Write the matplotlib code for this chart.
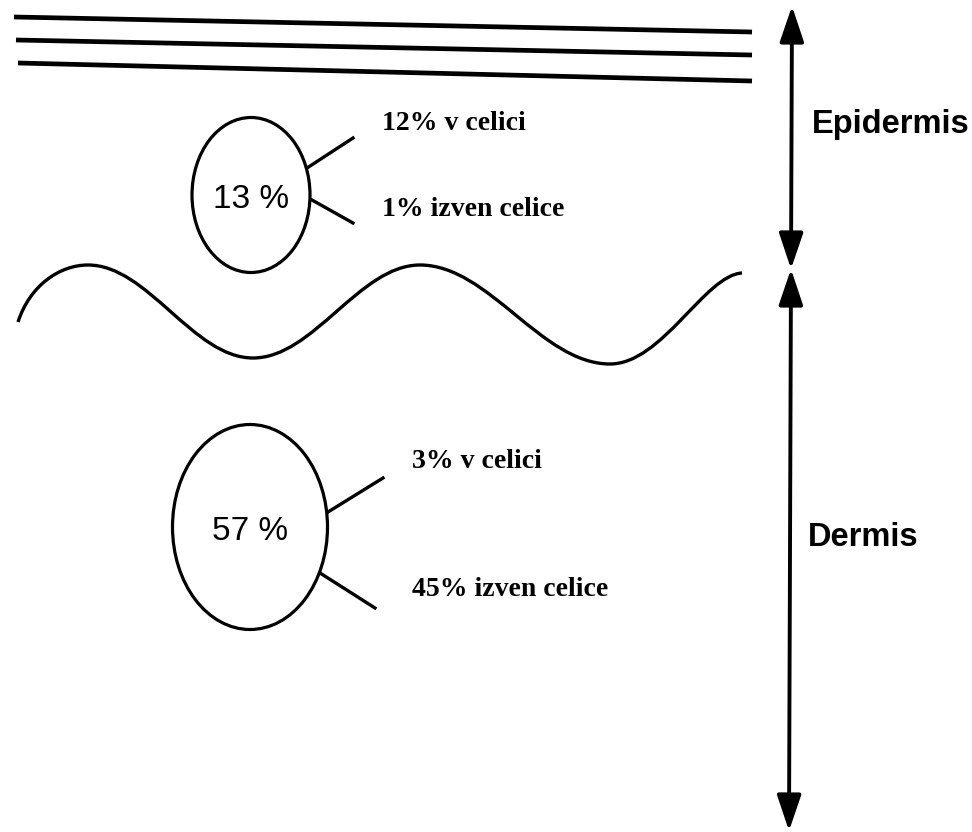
import matplotlib.pyplot as plt
from matplotlib.patches import Ellipse, FancyArrowPatch, PathPatch
from matplotlib.path import Path

# --- content ---
LAYERS = ['Epidermis', 'Dermis']
TOTAL = [13, 57]          # % of water in layer
IN_CELL = [12, 3]         # % inside cells
OUT_CELL = [1, 45]        # % outside cells

# --- geometry (pixel space, y downwards) ---
W, H = 972, 832
CIRC_C = [(251, 195), (250, 527)]
CIRC_WH = [(118, 155), (155, 205)]
SPOKE_UP = [((307, 168), (353, 138)), ((328, 512), (383, 478))]
SPOKE_DN = [((312, 200), (353, 223)), ((320, 573), (375, 608))]
LBL_X = [382, 412]
LBL_UP_Y = [123, 462]
LBL_DN_Y = [209, 590]
STRATA = [((14, 17), (752, 32)), ((16, 40), (752, 55)), ((18, 63), (752, 81))]
ARROWS = [((792, 6), (791, 269)), ((791, 269), (789, 831))]
LAYER_TXT = [(812, 125), (808, 538)]

INK = 'black'

fig = plt.figure(figsize=(W / 100, H / 100), dpi=100)
ax = fig.add_axes([0, 0, 1, 1])
ax.set_xlim(0, W)
ax.set_ylim(H, 0)
ax.axis('off')

# stratum corneum lines
for (x0, y0), (x1, y1) in STRATA:
    ax.plot([x0, x1], [y0, y1], color=INK, lw=3.4, solid_capstyle='butt')

# wavy dermo-epidermal junction (bezier through peaks and troughs)
k = 0.363
pk = [(88, 265), (253, 358), (420, 265), (610, 364)]
verts = [(18, 322), (30, 285), (60, 265), pk[0]]
codes = [Path.MOVETO, Path.CURVE4, Path.CURVE4, Path.CURVE4]
for a, b in zip(pk[:-1], pk[1:]):
    dx = b[0] - a[0]
    verts += [(a[0] + k * dx, a[1]), (b[0] - k * dx, b[1]), b]
    codes += [Path.CURVE4] * 3
verts += [(662, 364), (705, 275), (742, 273)]
codes += [Path.CURVE4] * 3
ax.add_patch(PathPatch(Path(verts, codes), fill=False, ec=INK, lw=2.4))

# circles with totals and split labels
for i in range(2):
    cx, cy = CIRC_C[i]
    w, h = CIRC_WH[i]
    ax.add_patch(Ellipse((cx, cy), w, h, fill=False, ec=INK, lw=2.3))
    ax.text(cx, cy + 4, f'{TOTAL[i]} %', ha='center', va='center', fontsize=24,
            family='Liberation Sans', color=INK)
    for (p0, p1) in (SPOKE_UP[i], SPOKE_DN[i]):
        ax.plot([p0[0], p1[0]], [p0[1], p1[1]], color=INK, lw=2.4)
    ax.text(LBL_X[i], LBL_UP_Y[i], f'{IN_CELL[i]}% v celici', ha='left', va='center',
            fontsize=20, fontweight='bold', family='Liberation Serif', color=INK)
    ax.text(LBL_X[i], LBL_DN_Y[i], f'{OUT_CELL[i]}% izven celice', ha='left', va='center',
            fontsize=20, fontweight='bold', family='Liberation Serif', color=INK)

# layer extent arrows
for (p0, p1) in ARROWS:
    ax.add_patch(FancyArrowPatch(p0, p1, arrowstyle='<|-|>,head_length=1.1,head_width=0.37',
                                 mutation_scale=20, color=INK, lw=2.8,
                                 shrinkA=0, shrinkB=0))

for name, (x, y) in zip(LAYERS, LAYER_TXT):
    ax.text(x, y, name, ha='left', va='center', fontsize=23.5, fontweight='bold',
            family='Liberation Sans', color=INK)

fig.savefig('out.png', dpi=100, facecolor='white')
